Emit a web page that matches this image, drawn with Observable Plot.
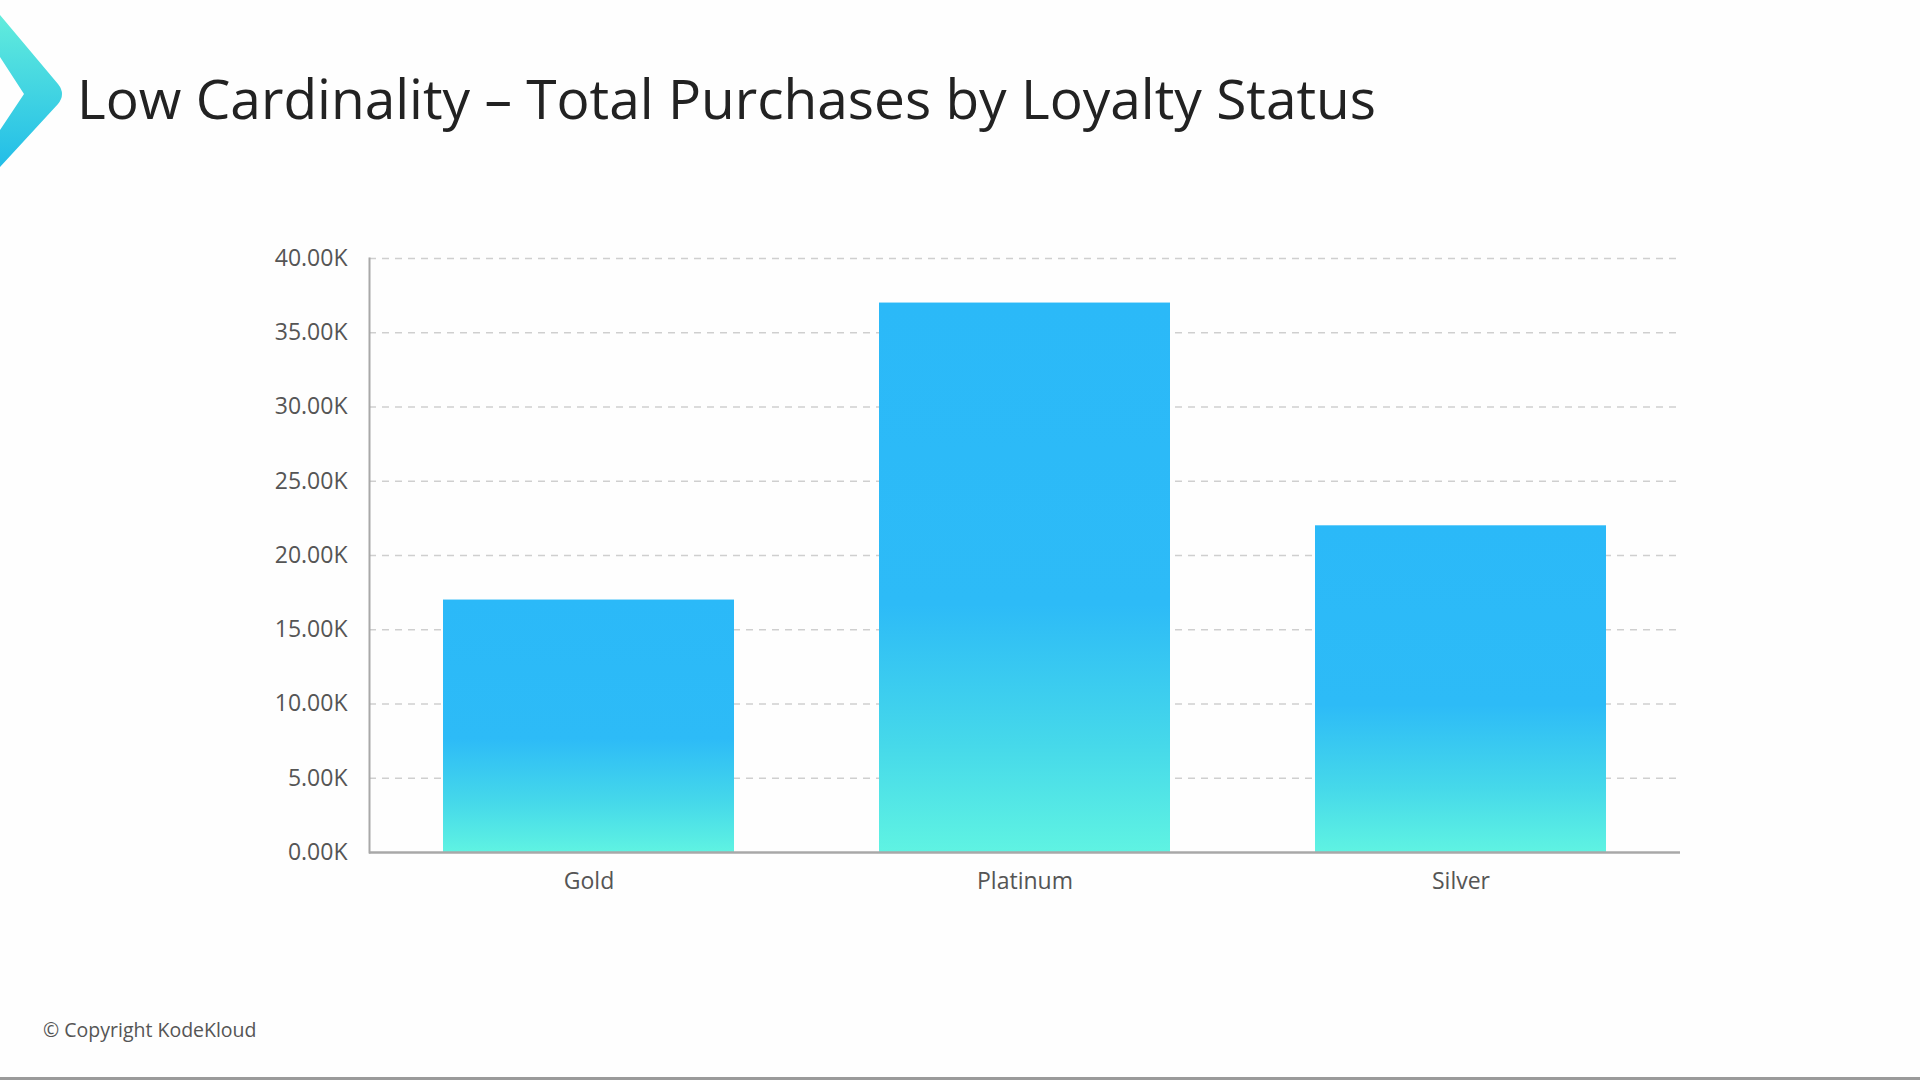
<!DOCTYPE html>
<html>
<head>
<meta charset="utf-8">
<script src="https://cdn.jsdelivr.net/npm/d3@7"></script>
<script src="https://cdn.jsdelivr.net/npm/@observablehq/plot@0.6"></script>
<style>
  html, body { margin: 0; padding: 0; background: #ffffff; }
  #page { position: relative; width: 1920px; height: 1080px; overflow: hidden; background: #fefefe; font-family: "Open Sans", "Noto Sans", sans-serif; }
  #logo { position: absolute; left: 0; top: 0; }
  #title { position: absolute; left: 77px; top: 66px; font-size: 55px; line-height: 64px; color: #222; white-space: nowrap; }
  #chart { position: absolute; left: 0; top: 200px; }
  #footer { position: absolute; left: 43px; top: 1019px; font-size: 19.5px; line-height: 22px; color: #555; }
  #bottomline { position: absolute; left: 0; top: 1077px; width: 1920px; height: 3px; background: #9a9a9a; }
</style>
</head>
<body>
<div id="page">
  <svg id="logo" width="80" height="180" viewBox="0 0 80 180">
    <defs>
      <linearGradient id="logoGrad" x1="0" y1="0" x2="0" y2="1">
        <stop offset="0" stop-color="#62ecdc"/>
        <stop offset="1" stop-color="#22bde8"/>
      </linearGradient>
    </defs>
    <path d="M0,15 L58,84 Q66,94 58,104 L0,167 L0,130 L24,94 L0,57 Z" fill="url(#logoGrad)"/>
  </svg>
  <div id="title">Low Cardinality – Total Purchases by Loyalty Status</div>
  <div id="chart"></div>
  <div id="footer">© Copyright KodeKloud</div>
  <div id="bottomline"></div>
</div>
<script>
const categories = ["Gold", "Platinum", "Silver"];
const purchases = [17000, 37000, 22000];
const yTicks = [0, 5000, 10000, 15000, 20000, 25000, 30000, 35000, 40000];

const data = categories.map((c, i) => ({ status: c, total: purchases[i] }));

function gradientDefs() {
  const ns = "http://www.w3.org/2000/svg";
  const defs = document.createElementNS(ns, "defs");
  const lg = document.createElementNS(ns, "linearGradient");
  lg.setAttribute("id", "barGrad");
  lg.setAttribute("x1", "0"); lg.setAttribute("y1", "0");
  lg.setAttribute("x2", "0"); lg.setAttribute("y2", "1");
  [["0", "#2bb9f8"], ["0.55", "#2dbbf7"], ["0.8", "#45d8ea"], ["1", "#5ff3e2"]].forEach(([o, c]) => {
    const s = document.createElementNS(ns, "stop");
    s.setAttribute("offset", o);
    s.setAttribute("stop-color", c);
    lg.appendChild(s);
  });
  defs.appendChild(lg);
  return defs;
}

const chart = Plot.plot({
  width: 1920,
  height: 720,
  marginLeft: 369,
  marginRight: 240,
  marginTop: 58,
  marginBottom: 68,
  style: { fontFamily: "'Open Sans', 'Noto Sans', sans-serif", background: "transparent", overflow: "visible" },
  x: { domain: categories, paddingInner: 0.333, paddingOuter: 0.1667, label: null },
  y: { domain: [0, 40000], label: null },
  marks: [
    gradientDefs,
    Plot.ruleY(yTicks.filter(d => d > 0), { stroke: "#cfcfcf", strokeWidth: 1.5, strokeDasharray: "7,6" }),
    Plot.barY(data, { x: "status", y: "total", fill: "url(#barGrad)" }),
    Plot.axisY({ ticks: yTicks, tickSize: 0, tickPadding: 22, tickFormat: d => (d / 1000).toFixed(2) + "K", fontSize: 23, fill: "#555", label: null }),
    Plot.axisX({ tickSize: 0, tickPadding: 20, fontSize: 23, fill: "#555", label: null }),
    Plot.frame({ anchor: "left", stroke: "#a8a8a8", strokeWidth: 2 }),
    Plot.ruleY([0], { stroke: "#a8a8a8", strokeWidth: 2.5 })
  ]
});
document.getElementById("chart").appendChild(chart);
</script>
</body>
</html>
